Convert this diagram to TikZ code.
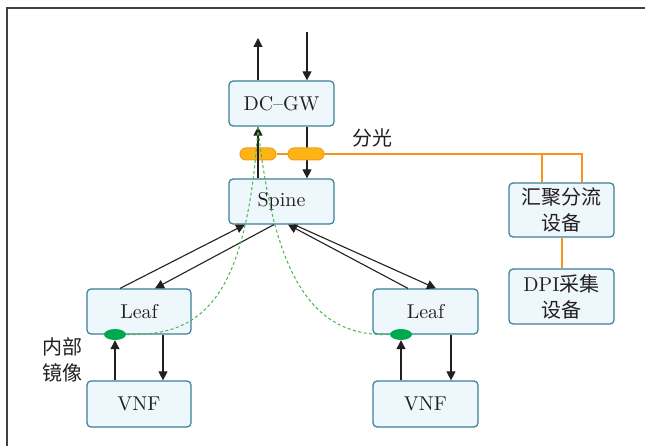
\documentclass[tikz,border=0pt]{standalone}
\usepackage{fontspec}
\setmainfont{lmroman10-regular.otf}
\newfontfamily\cjk{Noto Sans CJK SC}
\usetikzlibrary{arrows.meta,calc,shapes.geometric}
\definecolor{boxfill}{HTML}{EEF7FC}
\definecolor{boxdraw}{HTML}{3A7F98}
\definecolor{pillfill}{HTML}{FDB515}
\definecolor{pilldraw}{HTML}{F39A1E}
\definecolor{oline}{HTML}{F7941D}
\definecolor{gdash}{HTML}{45B649}
\definecolor{gfill}{HTML}{00A84F}
\definecolor{txt}{HTML}{231F20}
\begin{document}
\begin{tikzpicture}[x=1pt,y=-1pt,
  box/.style={draw=boxdraw,fill=boxfill,line width=1.2pt,rounded corners=4pt,
    minimum width=105pt,minimum height=45pt,inner sep=0pt,align=center,
    text=txt,font=\fontsize{20}{26}\selectfont},
  pill/.style={draw=pilldraw,fill=pillfill,line width=1pt,rounded corners=6pt,
    minimum width=36pt,minimum height=12pt,inner sep=0pt},
  gell/.style={ellipse,fill=gfill,minimum width=22pt,minimum height=11pt,inner sep=0pt},
  arr/.style={draw=txt,line width=1.1pt,-{Triangle[length=9pt,width=9pt]}},
  oln/.style={draw=oline,line width=1.3pt},
  gd/.style={draw=gdash,line width=1pt,dash pattern=on 3pt off 2.5pt},
  lbl/.style={text=txt,font=\fontsize{20}{26}\selectfont\cjk,align=center,inner sep=0pt}]
\useasboundingbox (0,0) rectangle (645,446);
\draw[line width=1.6pt,draw=black!75] (7,446) -- (7,8) -- (645,8);

% nodes
\node[box] (dcgw) at (281.5,103.5) {DC{\char"2013}GW};
\node[box] (spine) at (281.5,201.5) {Spine};
\node[box,minimum width=104pt] (leafL) at (139,311.5) {Leaf};
\node[box,minimum width=104pt,minimum height=46pt] (vnfL) at (139,404) {VNF};
\node[box] (leafR) at (425.5,311.5) {Leaf};
\node[box,minimum height=46pt] (vnfR) at (425.5,404) {VNF};
\node[box,minimum height=54pt] (hj) at (561.5,210) {{\cjk 汇聚分流}\\{\cjk 设备}};
\node[box,minimum height=55pt] (dpi) at (561.5,296.5) {DPI{\cjk 采集}\\{\cjk 设备}};

\node[lbl] (fg) at (372,138) {分光};
\node[lbl] (nb) at (62,360) {内部\\镜像};

\coordinate (topout) at (258,38);
\coordinate (topin) at (307,32);

% orange split lines
\node[pill] (pill1) at (258,154) {};
\draw[oln] (pill1.east) -- (288,154);
\draw[oln] (306,154) -| ([xshift=20.5pt]hj.north);
\draw[oln] ([xshift=-19.5pt]hj.north) |- (306,154);
\draw[oln] ([xshift=0.5pt]hj.south) -- ([xshift=0.5pt]dpi.north);

% DC-GW arrows
\draw[arr] (dcgw.north -| topout) -- (topout);
\draw[arr] (topin) -- (dcgw.north -| topin);
\draw[arr] (spine.north -| pill1) -- (dcgw.south -| pill1);
\draw[arr] (dcgw.south -| topin) -- (spine.north -| topin);
\node[pill] (pill2) at (306,154) {};

% spine-leaf
\draw[arr] ([xshift=-19pt]leafL.north) -- ([xshift=-36.5pt]spine.south);
\draw[arr] ([xshift=-7.5pt]spine.south) -- ([xshift=16pt]leafL.north);
\draw[arr] ([xshift=-17.5pt]leafR.north) -- ([xshift=6.5pt]spine.south);
\draw[arr] ([xshift=12.5pt]spine.south) -- ([xshift=10.5pt]leafR.north);

% leaf-vnf
\node[gell] (ellL) at (115,334.5) {};
\node[gell] (ellR) at (401,334.5) {};
\draw[arr] (vnfL.north -| ellL) -- (ellL.south);
\draw[arr] ([xshift=24pt]leafL.south) -- ([xshift=24pt]vnfL.north);
\draw[arr] (vnfR.north -| ellR) -- (ellR.south);
\draw[arr] ([xshift=25.5pt]leafR.south) -- ([xshift=25.5pt]vnfR.north);

% mirror paths
\coordinate (gwb) at (258,127);
\draw[gd] (gwb) .. controls (247,295) and (205,337) .. (ellL.east);
\draw[gd] (gwb) .. controls (275,290) and (320,337) .. (ellR.west);
\end{tikzpicture}
\end{document}
